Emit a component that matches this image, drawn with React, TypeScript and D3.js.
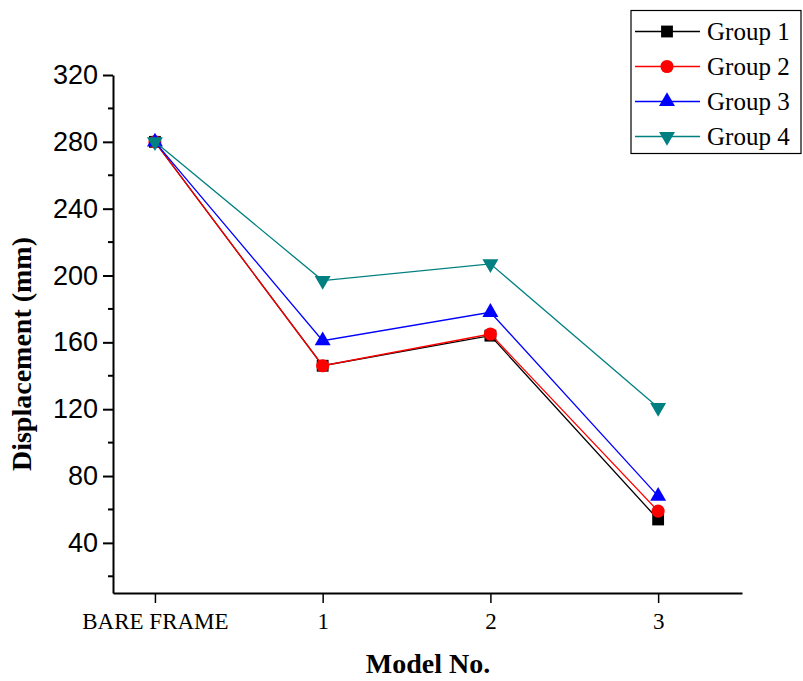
// App.tsx
// line chart of displacement by model, drawn with d3 into an svg ref

import React, { useEffect, useRef } from 'react'
import * as d3 from 'd3'

const categories = ['BARE FRAME', '1', '2', '3']
const group1 = [280, 146, 164, 54]
const group2 = [280, 146, 165, 59]
const group3 = [280, 161, 178, 68]
const group4 = [280, 197, 207, 121]
const seriesNames = ['Group 1', 'Group 2', 'Group 3', 'Group 4']
const yTicks = [40, 80, 120, 160, 200, 240, 280, 320]
const yMinorTicks = [20, 60, 100, 140, 180, 220, 260, 300]

const serif = '"Liberation Serif", "Times New Roman", serif'
const sans = '"Liberation Sans", Arial, sans-serif'

function App () {
  const ref = useRef<SVGSVGElement>(null)

  useEffect(() => {
    const svg = d3.select(ref.current)
    svg.selectAll('*').remove()

    const width = 803
    const height = 681
    svg.attr('width', width).attr('height', height)

    const x = d3.scaleLinear().domain([-0.25, 3.5]).range([113, 742])
    const y = d3.scaleLinear().domain([10, 320]).range([593, 75])

    const series = [
      { name: seriesNames[0], values: group1, color: '#000000', symbol: d3.symbolSquare, size: 140, rot: 0 },
      { name: seriesNames[1], values: group2, color: '#ff0000', symbol: d3.symbolCircle, size: 135, rot: 0 },
      { name: seriesNames[2], values: group3, color: '#0000ff', symbol: d3.symbolTriangle, size: 110, rot: 0 },
      { name: seriesNames[3], values: group4, color: '#008080', symbol: d3.symbolTriangle, size: 110, rot: 180 }
    ]

    // y axis
    const yAxis = svg.append('g')
      .attr('transform', 'translate(113,0)')
      .call(d3.axisLeft(y).tickValues(yTicks).tickSize(10).tickSizeOuter(0).tickPadding(5))
    yAxis.select('.domain').attr('stroke-width', 2)
    yAxis.selectAll('.tick line').attr('stroke-width', 2)
    yAxis.selectAll('.tick text')
      .attr('font-family', sans)
      .attr('font-size', 27)
      .attr('fill', '#000')
    svg.append('g')
      .attr('transform', 'translate(113,0)')
      .selectAll('line')
      .data(yMinorTicks)
      .enter()
      .append('line')
      .attr('x1', -5)
      .attr('x2', 0)
      .attr('y1', d => y(d))
      .attr('y2', d => y(d))
      .attr('stroke', '#000')
      .attr('stroke-width', 2)

    // x axis
    const xAxis = svg.append('g')
      .attr('transform', 'translate(0,593)')
      .call(d3.axisBottom(x)
        .tickValues(categories.map((c, i) => i))
        .tickFormat((d, i) => categories[i])
        .tickSize(10)
        .tickSizeOuter(0)
        .tickPadding(10))
    xAxis.select('.domain').attr('stroke-width', 2)
    xAxis.selectAll('.tick line').attr('stroke-width', 1.5)
    xAxis.selectAll('.tick text')
      .attr('font-family', serif)
      .attr('font-size', 23)
      .attr('fill', '#000')

    // lines and markers
    const line = d3.line<number>()
      .x((d, i) => x(i))
      .y(d => y(d))

    series.forEach(s => {
      svg.append('path')
        .datum(s.values)
        .attr('d', line)
        .attr('fill', 'none')
        .attr('stroke', s.color)
        .attr('stroke-width', 1.3)
      svg.append('g')
        .selectAll('path')
        .data(s.values)
        .enter()
        .append('path')
        .attr('d', d3.symbol().type(s.symbol).size(s.size)())
        .attr('transform', (d, i) => 'translate(' + x(i) + ',' + y(d) + ') rotate(' + s.rot + ')')
        .attr('fill', s.color)
    })

    // axis titles
    svg.append('text')
      .attr('x', 428)
      .attr('y', 673)
      .attr('text-anchor', 'middle')
      .attr('font-family', serif)
      .attr('font-weight', 'bold')
      .attr('font-size', 28)
      .text('Model No.')

    svg.append('g')
      .attr('transform', 'translate(31,354)')
      .append('text')
      .attr('text-anchor', 'middle')
      .attr('transform', 'rotate(-90)')
      .attr('font-family', serif)
      .attr('font-weight', 'bold')
      .attr('font-size', 28)
      .text('Displacement (mm)')

    // legend
    const legend = svg.append('g')
    legend.append('rect')
      .attr('x', 631)
      .attr('y', 10.5)
      .attr('width', 170)
      .attr('height', 143)
      .attr('fill', '#fff')
      .attr('stroke', '#000')
      .attr('stroke-width', 1.2)
    series.forEach((s, i) => {
      const ly = 31.5 + i * 35
      legend.append('line')
        .attr('x1', 635)
        .attr('x2', 700)
        .attr('y1', ly)
        .attr('y2', ly)
        .attr('stroke', s.color)
        .attr('stroke-width', 1.3)
      legend.append('path')
        .attr('d', d3.symbol().type(s.symbol).size(s.size)())
        .attr('transform', 'translate(667,' + ly + ') rotate(' + s.rot + ')')
        .attr('fill', s.color)
      legend.append('text')
        .attr('x', 707)
        .attr('y', ly + 8.5)
        .attr('font-family', serif)
        .attr('font-size', 25)
        .text(s.name)
    })
  }, [])

  return (
    <svg ref={ref} style={{ position: 'absolute', left: 0, top: 0, background: '#fff' }} />
  )
}

export default App
